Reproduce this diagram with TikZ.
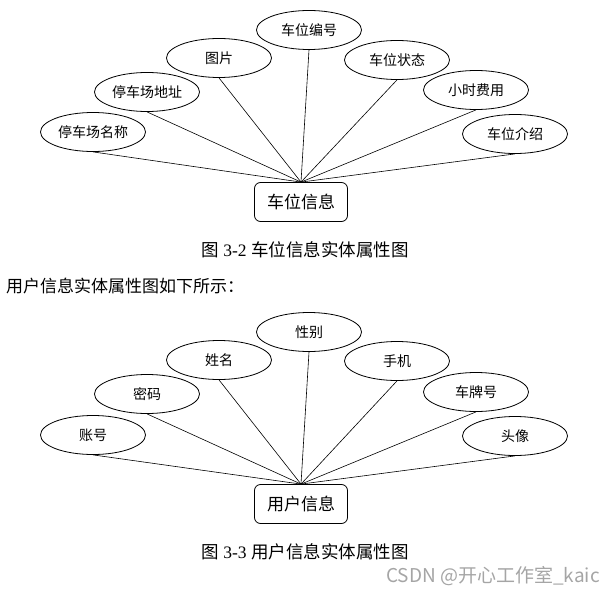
\documentclass[tikz,border=0pt]{standalone}
\usepackage{fontspec}
\setmainfont{Liberation Serif}
\newfontfamily\cjk{Noto Sans CJK SC}
\usepackage{tikz}
\usetikzlibrary{shapes.geometric}
\definecolor{wgray}{RGB}{165,165,165}
\tikzset{
  attr/.style ={ellipse, draw=black, line width=0.8pt, fill=white,
                minimum width=105pt, minimum height=39pt, inner sep=0pt,
                font=\cjk\fontsize{14}{16}\selectfont},
  ent/.style  ={rectangle, rounded corners=6pt, draw=black, line width=0.8pt,
                fill=white, minimum width=93pt, minimum height=39pt,
                inner sep=0pt, font=\cjk\fontsize{17}{19}\selectfont},
  ln/.style   ={draw=black, line width=0.6pt},
  capt/.style ={font=\fontsize{17.5}{19}\selectfont, inner sep=0pt}
}

\begin{document}
\begin{tikzpicture}[x=1pt, y=-1pt]
\useasboundingbox (0,0) rectangle (616,594);
% parking space entity
\node[ent] (cw) at (301,202) {车位信息};
\node[attr] (cmc) at (93,132) {停车场名称};
\node[attr] (cdz) at (147,92) {停车场地址};
\node[attr] (ctp) at (219,58) {图片};
\node[attr] (cbh) at (309,30) {车位编号};
\node[attr] (czt) at (397,60) {车位状态};
\node[attr] (cfy) at (476,90) {小时费用};
\node[attr] (cjs) at (515,134) {车位介绍};
\foreach \a in {cmc,cdz,ctp,cbh,czt,cfy,cjs}
  \draw[ln] (\a.south) -- (cw.north);
\node[capt] (cap1) at (305,250) {{\cjk 图} 3-2 {\cjk 车位信息实体属性图}};
\node[capt, anchor=west, font=\fontsize{17}{19}\selectfont] (txt) at (6,286)
  {\cjk 用户信息实体属性图如下所示：};
% user entity
\node[ent] (yh) at (301,504) {用户信息};
\node[attr] (yzh) at (93,435) {账号};
\node[attr] (ymm) at (147,394) {密码};
\node[attr] (yxm) at (219,360) {姓名};
\node[attr] (yxb) at (309,332) {性别};
\node[attr] (ysj) at (397,361) {手机};
\node[attr] (ycp) at (476,392) {车牌号};
\node[attr] (ytx) at (515,436) {头像};
\foreach \a in {yzh,ymm,yxm,yxb,ysj,ycp,ytx}
  \draw[ln] (\a.south) -- (yh.north);
\node[capt] (cap2) at (305,552) {{\cjk 图} 3-3 {\cjk 用户信息实体属性图}};
\node[anchor=east, inner sep=0pt, text=wgray, font=\cjk\fontsize{19}{21}\selectfont]
  (wm) at (600,576) {CSDN @开心工作室\_kaic};
\end{tikzpicture}
\end{document}
